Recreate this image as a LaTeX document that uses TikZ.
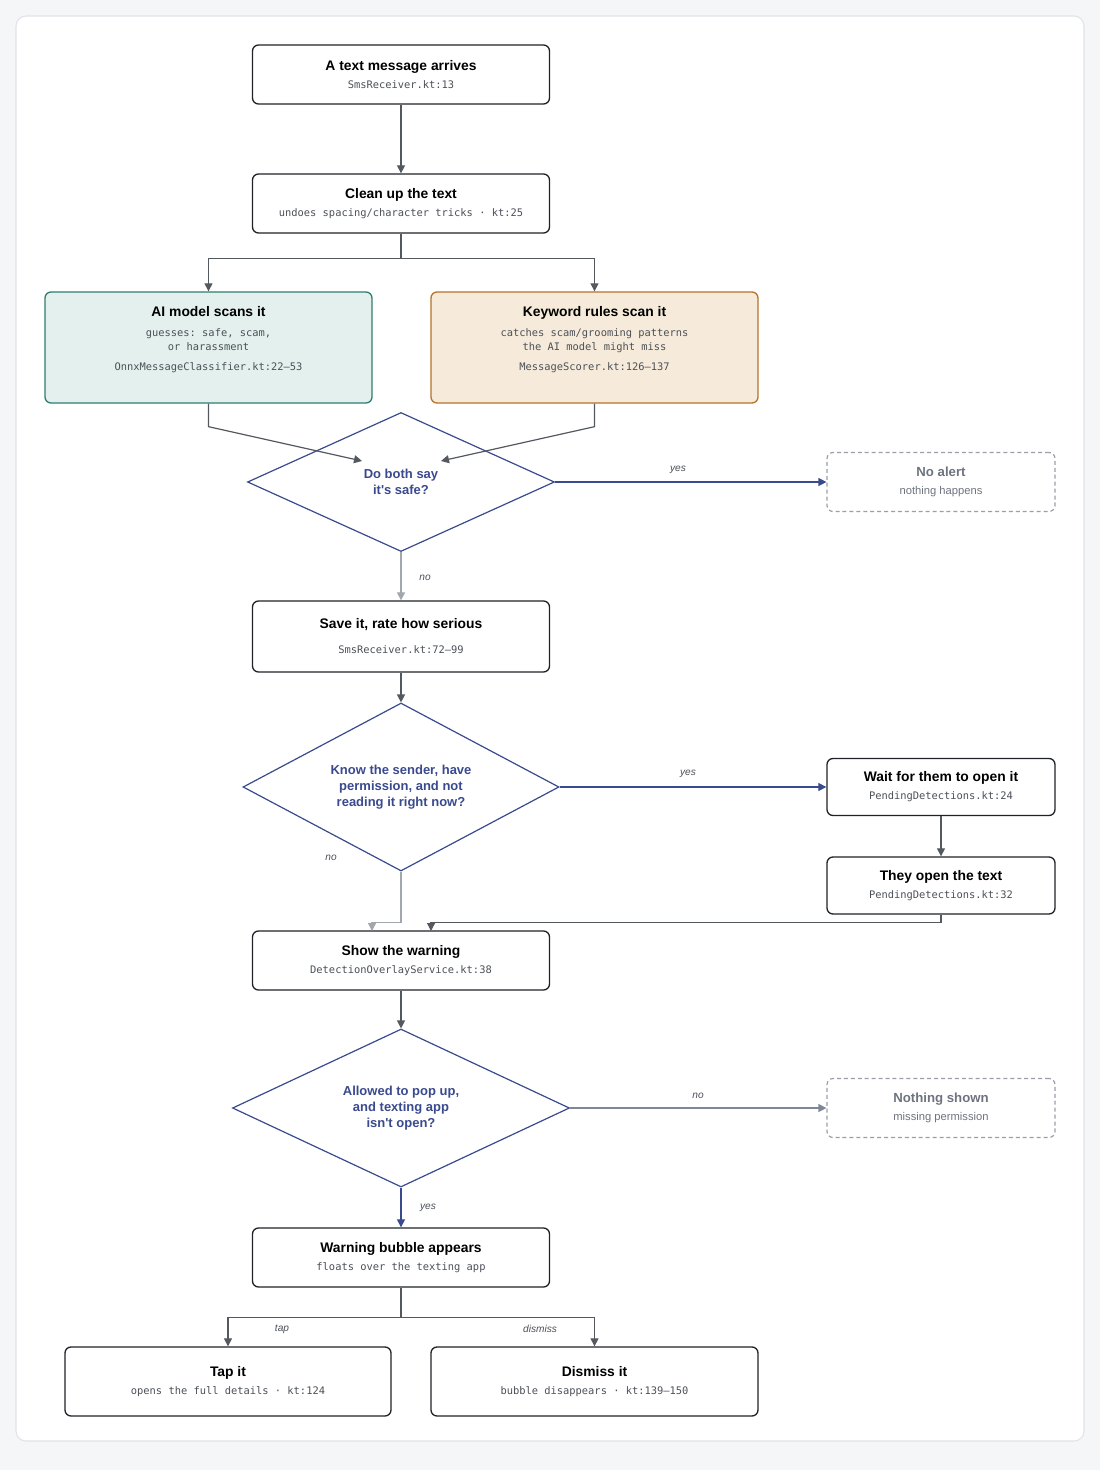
\documentclass[tikz,border=0pt]{standalone}
\usepackage{fontspec}
\setmainfont{Liberation Sans}
\setmonofont{DejaVu Sans Mono}
\usetikzlibrary{arrows.meta,shapes.geometric}
\definecolor{pagebg}{HTML}{F5F6F8}
\definecolor{cardline}{HTML}{E1E3E8}
\definecolor{boxline}{HTML}{1F2328}
\definecolor{srcgray}{HTML}{4B5058}
\definecolor{flowgray}{HTML}{54585F}
\definecolor{softgray}{HTML}{A2A6AD}
\definecolor{decblue}{HTML}{3A4A8E}
\definecolor{nogray}{HTML}{7F8698}
\definecolor{mutegray}{HTML}{6E747F}
\definecolor{dashgray}{HTML}{9A9FA8}
\definecolor{tealfill}{HTML}{E4F0ED}
\definecolor{tealline}{HTML}{2E7D72}
\definecolor{sandfill}{HTML}{F6EBDA}
\definecolor{sandline}{HTML}{B5732B}
\newcommand{\ttl}[1]{{\fontsize{10.4}{13.5}\selectfont\bfseries #1}}
\newcommand{\src}[1]{{\fontsize{7.8}{13.5}\selectfont\ttfamily\color{srcgray}#1}}
\newcommand{\quiet}[1]{{\fontsize{8.4}{10}\selectfont #1}}
\newcommand{\apos}{\textquotesingle}
\tikzset{
  stepbox/.style  = {draw=boxline, line width=1pt, rounded corners=4.5pt, fill=white,
                     align=center, inner sep=2pt, font=\fontsize{10.4}{13.5}\selectfont,
                     minimum width=222.75pt, minimum height=44.25pt},
  scanbox/.style  = {stepbox, minimum width=245.25pt, minimum height=83.25pt},
  sidebox/.style  = {stepbox, minimum width=171pt, minimum height=42.75pt},
  quietbox/.style = {draw=dashgray, line width=0.9pt, dash pattern=on 3pt off 2.2pt,
                     rounded corners=4.5pt, fill=white, text=mutegray, align=center,
                     minimum width=171pt, minimum height=44.25pt,
                     font=\fontsize{9.9}{13.5}\selectfont},
  askbox/.style   = {diamond, shape aspect=2, draw=decblue, line width=0.9pt, fill=white,
                     inner sep=0pt, text=decblue, align=center,
                     font=\fontsize{9.75}{12}\selectfont\bfseries},
  flowarr/.style  = {-{Triangle[length=6pt,width=6pt]}, line width=0.9pt, flowgray},
  softarr/.style  = {flowarr, softgray},
  bluearr/.style  = {flowarr, decblue},
  edgelbl/.style  = {font=\fontsize{7.6}{9}\selectfont\itshape, text=srcgray, inner sep=1pt}
}

\begin{document}
\begin{tikzpicture}[x=0.75pt,y=-0.75pt]
  % page and card
  \fill[pagebg] (0,0) rectangle (1100,1470);
  \useasboundingbox (0,0) rectangle (1100,1470);
  \draw[cardline,fill=white,line width=0.8pt,rounded corners=7.5pt] (16,16) rectangle (1084,1441);

  % main column
  \node[stepbox] (arrive) at (401,74.5) {\ttl{A text message arrives}\\\src{SmsReceiver.kt:13}};
  \node[stepbox] (clean) at (401,203.5) {\ttl{Clean up the text}\\\src{undoes spacing/character tricks · kt:25}};
  \node[scanbox,fill=tealfill,draw=tealline] (model) at (208.5,347.5)
       {\ttl{AI model scans it}\\[1.5pt]\src{guesses: safe, scam,}\\[-3pt]\src{or harassment}\\[1.5pt]\src{OnnxMessageClassifier.kt:22–53}\\\mbox{}};
  \node[scanbox,fill=sandfill,draw=sandline] (rules) at (594.5,347.5)
       {\ttl{Keyword rules scan it}\\[1.5pt]\src{catches scam/grooming patterns}\\[-3pt]\src{the AI model might miss}\\[1.5pt]\src{MessageScorer.kt:126–137}\\\mbox{}};
  \node[askbox,minimum width=230.25pt,minimum height=104.25pt] (bothsafe) at (401,482)
       {Do both say\\it\apos s safe?};
  \node[quietbox] (noalert) at (941,482)
       {\textbf{No alert}\\\quiet{nothing happens}};
  \node[stepbox,minimum height=53.25pt] (save) at (401,636.5)
       {\ttl{Save it, rate how serious}\\[5.25pt]\src{SmsReceiver.kt:72–99}};
  \node[askbox,minimum width=237pt,minimum height=126pt] (knowsender) at (401,787)
       {Know the sender, have\\permission, and not\\reading it right now?};
  \node[sidebox] (waitopen) at (941,787) {\ttl{Wait for them to open it}\\\src{PendingDetections.kt:24}};
  \node[sidebox] (opened) at (941,885.5) {\ttl{They open the text}\\\src{PendingDetections.kt:32}};
  \node[stepbox] (warn) at (401,960.5) {\ttl{Show the warning}\\\src{DetectionOverlayService.kt:38}};
  \node[askbox,minimum width=252.75pt,minimum height=118.5pt] (popup) at (401,1108)
       {Allowed to pop up,\\and texting app\\isn\apos t open?};
  \node[quietbox] (nothing) at (941,1108)
       {\textbf{Nothing shown}\\\quiet{missing permission}};
  \node[stepbox] (bubble) at (401,1257.5) {\ttl{Warning bubble appears}\\\src{floats over the texting app}};
  \node[stepbox,minimum width=244.5pt,minimum height=51.75pt] (tapit) at (228,1381.5)
       {\ttl{Tap it}\\\src{opens the full details · kt:124}};
  \node[stepbox,minimum width=245.25pt,minimum height=51.75pt] (dismissit) at (594.5,1381.5)
       {\ttl{Dismiss it}\\\src{bubble disappears · kt:139–150}};

  % ends of the bent connectors
  \coordinate (bothinl) at (362,461);
  \coordinate (bothinr) at (441,461);
  \coordinate (warninl) at (372,931);
  \coordinate (warninr) at (431,931);

  % connectors
  \draw[flowarr] (arrive) -- (clean);
  \draw[flowarr] (clean.south) -- ++(0,25) -| (model.north);
  \draw[flowarr] (clean.south) -- ++(0,25) -| (rules.north);
  \draw[flowarr] (model.south) -- ++(0,23) -- (bothinl);
  \draw[flowarr] (rules.south) -- ++(0,23) -- (bothinr);
  \draw[bluearr] (bothsafe.east) -- (noalert.west);
  \draw[softarr] (bothsafe.south) -- (save.north);
  \draw[flowarr] (save) -- (knowsender.north);
  \draw[bluearr] (knowsender.east) -- (waitopen.west);
  \draw[flowarr] (waitopen) -- (opened);
  \draw[softarr] (knowsender.south) -- ++(0,51) -| (warninl);
  \draw[flowarr] (opened.south) -- ++(0,8) -| (warninr);
  \draw[flowarr] (warn) -- (popup.north);
  \draw[flowarr,nogray] (popup.east) -- (nothing.west);
  \draw[bluearr] (popup.south) -- (bubble.north);
  \draw[flowarr] (bubble.south) -- ++(0,30) -| (tapit.north);
  \draw[flowarr] (bubble.south) -- ++(0,30) -| (dismissit.north);

  % edge labels
  \node[edgelbl] (lblyes1) at (678,470) {yes};
  \node[edgelbl] (lblno1) at (425,578) {no};
  \node[edgelbl] (lblyes2) at (688,774) {yes};
  \node[edgelbl] (lblno2) at (331,858) {no};
  \node[edgelbl] (lblno3) at (698,1096) {no};
  \node[edgelbl] (lblyes3) at (428,1208) {yes};
  \node[edgelbl] (lbltap) at (282,1329) {tap};
  \node[edgelbl] (lbldismiss) at (540,1329) {dismiss};
\end{tikzpicture}
\end{document}
